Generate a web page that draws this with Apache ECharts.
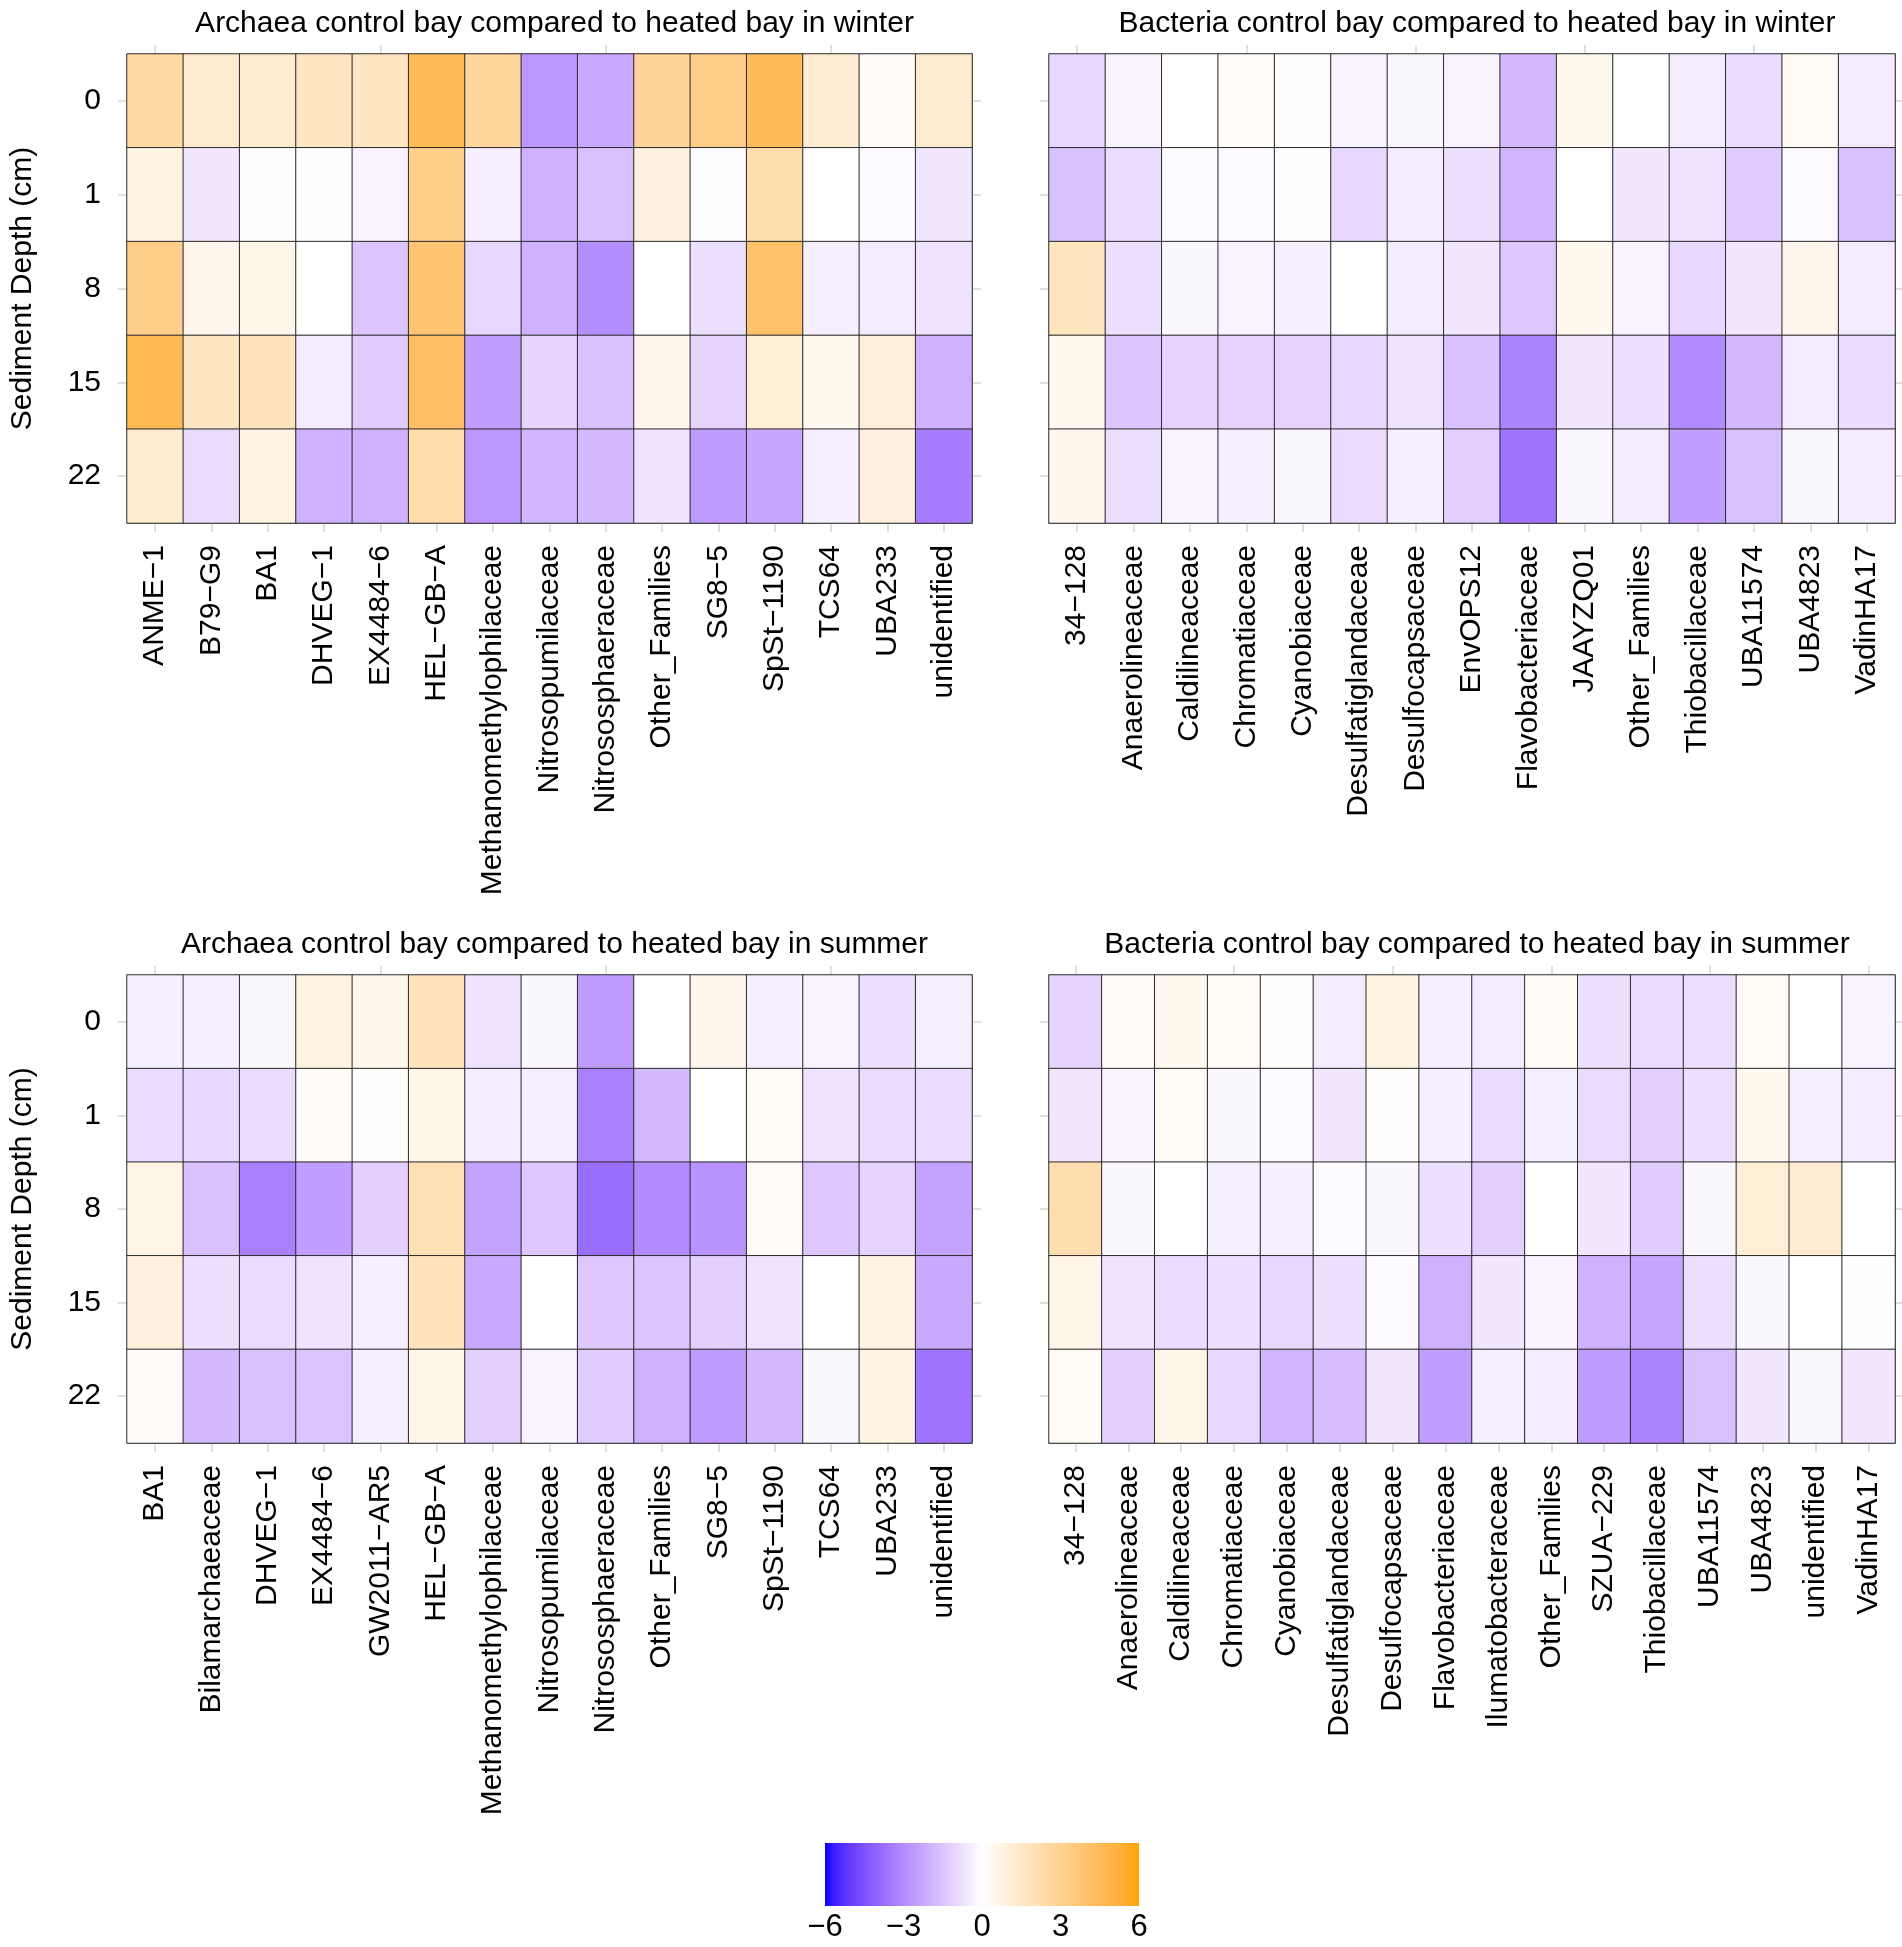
<!DOCTYPE html>
<html><head><meta charset="utf-8">
<script src="https://cdn.jsdelivr.net/npm/echarts@6/dist/echarts.min.js"></script>
<style>html,body{margin:0;padding:0;background:#fff}#c{width:1902px;height:1947px}</style>
</head><body><div id="c"></div>
<script>
const depths = ['0','1','8','15','22'];
const archaeaWinterFamilies = ['ANME−1','B79−G9','BA1','DHVEG−1','EX4484−6','HEL−GB−A','Methanomethylophilaceae','Nitrosopumilaceae','Nitrososphaeraceae','Other_Families','SG8−5','SpSt−1190','TCS64','UBA233','unidentified'];
const bacteriaWinterFamilies = ['34−128','Anaerolineaceae','Caldilineaceae','Chromatiaceae','Cyanobiaceae','Desulfatiglandaceae','Desulfocapsaceae','EnvOPS12','Flavobacteriaceae','JAAYZQ01','Other_Families','Thiobacillaceae','UBA11574','UBA4823','VadinHA17'];
const archaeaSummerFamilies = ['BA1','Bilamarchaeaceae','DHVEG−1','EX4484−6','GW2011−AR5','HEL−GB−A','Methanomethylophilaceae','Nitrosopumilaceae','Nitrososphaeraceae','Other_Families','SG8−5','SpSt−1190','TCS64','UBA233','unidentified'];
const bacteriaSummerFamilies = ['34−128','Anaerolineaceae','Caldilineaceae','Chromatiaceae','Cyanobiaceae','Desulfatiglandaceae','Desulfocapsaceae','Flavobacteriaceae','Ilumatobacteraceae','Other_Families','SZUA−229','Thiobacillaceae','UBA11574','UBA4823','unidentified','VadinHA17'];

// rows = depths 0,1,8,15,22 ; columns = families
const archaeaWinter = [
  [2.5, 1.3, 1.3, 1.6, 1.6, 4.5, 2.7, -2.7, -2.2, 2.8, 3.2, 4.5, 1.2, 0.2, 1.3],
  [0.8, -0.6, 0.1, 0.05, -0.3, 3.2, -0.4, -2.0, -1.6, 0.9, -0.05, 2.2, 0.0, -0.1, -0.6],
  [3.2, 0.5, 0.6, 0.0, -1.5, 3.8, -1.0, -2.0, -2.9, 0.0, -0.8, 4.0, -0.4, -0.5, -0.7],
  [4.6, 1.6, 1.8, -0.5, -1.3, 4.2, -2.5, -1.1, -1.6, 0.5, -1.1, 1.1, 0.4, 1.0, -2.0],
  [1.3, -0.9, 0.8, -2.0, -2.0, 2.3, -2.7, -1.9, -1.8, -0.7, -2.6, -2.3, -0.4, 0.9, -3.4]
];
const bacteriaWinter = [
  [-1.0, -0.3, 0.0, 0.15, 0.05, -0.3, -0.2, -0.3, -1.8, 0.4, 0.0, -0.5, -0.9, 0.3, -0.5],
  [-1.6, -0.9, -0.1, -0.15, -0.05, -1.0, -0.5, -0.8, -1.9, 0.0, -0.6, -0.7, -1.3, -0.15, -1.6],
  [1.7, -0.8, -0.2, -0.3, -0.4, 0.0, -0.5, -0.6, -1.4, 0.4, -0.3, -1.0, -0.6, 0.5, -0.5],
  [0.4, -1.5, -1.1, -1.1, -1.1, -1.0, -0.7, -1.6, -3.2, -0.6, -0.8, -3.0, -1.8, -0.5, -0.9],
  [0.5, -0.8, -0.3, -0.4, -0.2, -0.9, -0.4, -1.2, -3.6, -0.2, -0.5, -2.5, -1.6, -0.2, -0.5]
];
const archaeaSummer = [
  [-0.4, -0.4, -0.2, 0.8, 0.5, 1.8, -0.7, -0.2, -2.6, 0.0, 0.5, -0.4, -0.3, -0.8, -0.4],
  [-0.9, -1.0, -0.9, 0.2, 0.05, 0.6, -0.5, -0.4, -3.3, -1.8, 0.0, 0.3, -0.7, -0.9, -0.9],
  [0.7, -1.6, -3.3, -2.5, -1.2, 2.0, -2.4, -1.4, -3.8, -3.0, -2.8, 0.2, -1.4, -1.1, -2.4],
  [0.9, -0.8, -0.9, -0.7, -0.4, 1.8, -2.2, 0.0, -1.4, -1.5, -1.2, -0.7, 0.0, 0.8, -2.2],
  [0.2, -1.8, -1.6, -1.5, -0.4, 0.6, -1.2, -0.3, -1.3, -2.0, -2.6, -1.8, -0.2, 0.8, -3.6]
];
const bacteriaSummer = [
  [-1.1, 0.2, 0.4, 0.3, 0.05, -0.5, 0.8, -0.4, -0.5, 0.2, -0.8, -0.9, -0.8, 0.3, 0.0, -0.3],
  [-0.6, -0.3, 0.3, -0.2, -0.1, -0.6, 0.05, -0.4, -0.9, -0.4, -0.9, -1.2, -0.8, 0.4, -0.4, -0.5],
  [2.2, -0.2, 0.0, -0.4, -0.4, -0.1, -0.2, -0.8, -1.2, 0.0, -0.6, -1.3, -0.2, 1.1, 1.2, 0.0],
  [0.6, -0.7, -0.9, -0.8, -1.0, -0.8, -0.1, -2.0, -0.6, -0.3, -2.0, -2.3, -0.8, -0.2, 0.0, -0.05],
  [0.3, -1.2, 0.6, -1.0, -1.9, -1.7, -0.6, -2.5, -0.4, -0.5, -2.6, -3.2, -1.6, -0.6, -0.2, -0.6]
];
const panelTitles = [
  'Archaea control bay compared to heated bay in winter',
  'Bacteria control bay compared to heated bay in winter',
  'Archaea control bay compared to heated bay in summer',
  'Bacteria control bay compared to heated bay in summer'
];
const colorTicks = [-6, -3, 0, 3, 6];

// Lab-space colour ramp blue -> white -> orange
function srgbToLin(c){c/=255;return c<=0.04045?c/12.92:Math.pow((c+0.055)/1.055,2.4);}
function linToSrgb(c){c=Math.max(0,Math.min(1,c));return Math.round(255*(c<=0.0031308?12.92*c:1.055*Math.pow(c,1/2.4)-0.055));}
function toLab(hex){
  const r=srgbToLin(parseInt(hex.substr(1,2),16)),g=srgbToLin(parseInt(hex.substr(3,2),16)),b=srgbToLin(parseInt(hex.substr(5,2),16));
  let X=(0.4124*r+0.3576*g+0.1805*b)/0.95047,Y=(0.2126*r+0.7152*g+0.0722*b),Z=(0.0193*r+0.1192*g+0.9505*b)/1.08883;
  const f=t=>t>0.008856?Math.cbrt(t):7.787*t+16/116;
  const fx=f(X),fy=f(Y),fz=f(Z);
  return [116*fy-16,500*(fx-fy),200*(fy-fz)];
}
function fromLab(L,a,bb){
  const fy=(L+16)/116,fx=fy+a/500,fz=fy-bb/200;
  const fi=t=>t*t*t>0.008856?t*t*t:(t-16/116)/7.787;
  const X=fi(fx)*0.95047,Y=fi(fy),Z=fi(fz)*1.08883;
  const r=3.2406*X-1.5372*Y-0.4986*Z,g=-0.9689*X+1.8758*Y+0.0415*Z,b=0.0557*X-0.2040*Y+1.0570*Z;
  const h=v=>linToSrgb(v).toString(16).padStart(2,'0');
  return '#'+h(r)+h(g)+h(b);
}
function ramp(stops,n){
  const labs=stops.map(toLab),out=[];
  for(let i=0;i<n;i++){
    const t=i/(n-1)*(labs.length-1);const k=Math.min(Math.floor(t),labs.length-2);const u=t-k;
    const A=labs[k],B=labs[k+1];
    out.push(fromLab(A[0]+(B[0]-A[0])*u,A[1]+(B[1]-A[1])*u,A[2]+(B[2]-A[2])*u));
  }
  return out;
}
const rampColors = ramp(['#0000FF','#FFFFFF','#FFA500'], 41);

const FONT = 'Liberation Sans, Arial, sans-serif';
const FS = 30;
const panels = [
  {fam: archaeaWinterFamilies, vals: archaeaWinter, left:127, top:54, width:845, height:469, ylab:true},
  {fam: bacteriaWinterFamilies, vals: bacteriaWinter, left:1049, top:54, width:846, height:469, ylab:false},
  {fam: archaeaSummerFamilies, vals: archaeaSummer, left:127, top:975, width:845, height:468, ylab:true},
  {fam: bacteriaSummerFamilies, vals: bacteriaSummer, left:1049, top:975, width:846, height:468, ylab:false}
];

const grid=[], xAxis=[], yAxis=[], series=[], title=[];
const tickStyle = {show:true, alignWithLabel:true, length:9, lineStyle:{color:'#d6d6d6', width:1.5}};
const lineStyle = {show:true, lineStyle:{color:'#9a9a9a', width:1}};
panels.forEach((p,i)=>{
  grid.push({left:p.left, top:p.top, width:p.width, height:p.height});
  title.push({text: panelTitles[i], left: p.left + p.width/2, top: p.top - 50, textAlign:'center',
    textStyle:{fontFamily:FONT, fontSize:FS, fontWeight:'normal', color:'#000'}});
  xAxis.push({type:'category', gridIndex:i, data:p.fam, position:'bottom', axisLine:lineStyle, axisTick:tickStyle,
    axisLabel:{rotate:90, margin:22, fontFamily:FONT, fontSize:FS, color:'#000', interval:0}, splitLine:{show:false}});
  xAxis.push({type:'category', gridIndex:i, data:p.fam, position:'top', axisLine:lineStyle, axisTick:tickStyle,
    axisLabel:{show:false}, splitLine:{show:false}});
  yAxis.push({type:'category', gridIndex:i, data:depths, inverse:true, position:'left', axisLine:lineStyle, axisTick:tickStyle,
    axisLabel:{show:p.ylab, margin:26, fontFamily:FONT, fontSize:FS, color:'#000'},
    name: p.ylab ? 'Sediment Depth (cm)' : '', nameLocation:'middle', nameRotate:90, nameGap:89,
    nameTextStyle:{fontFamily:FONT, fontSize:FS, color:'#000'}});
  yAxis.push({type:'category', gridIndex:i, data:depths, inverse:true, position:'right', axisLine:lineStyle, axisTick:tickStyle,
    axisLabel:{show:false}});
  const data=[];
  p.vals.forEach((row,r)=>row.forEach((v,c)=>data.push([c,r,v])));
  series.push({type:'heatmap', xAxisIndex:2*i, yAxisIndex:2*i, data:data,
    itemStyle:{borderColor:'#2a2a2a', borderWidth:1}, emphasis:{disabled:true}});
});

// colour bar grid (axis labels)
const cb = {left:825, top:1843, width:314, height:63};
grid.push({left:cb.left, top:cb.top, width:cb.width, height:cb.height});
xAxis.push({type:'value', gridIndex:4, min:colorTicks[0], max:colorTicks[colorTicks.length-1], interval:3,
  axisLine:{show:false}, splitLine:{show:false},
  axisTick:{show:true, inside:true, length:7, lineStyle:{color:'#fff', width:1.5}},
  axisLabel:{margin:6, fontFamily:FONT, fontSize:31, color:'#000', formatter:v=>String(v).replace('-','−')}});
yAxis.push({type:'value', gridIndex:4, show:false});

const stops = rampColors.map((c,i)=>({offset:i/(rampColors.length-1), color:c}));

const chart = echarts.init(document.getElementById('c'));
chart.setOption({
  animation:false,
  backgroundColor:'#fff',
  title, grid, xAxis, yAxis, series,
  visualMap:{type:'continuous', min:-6, max:6, show:false, seriesIndex:[0,1,2,3], inRange:{color:rampColors}},
  graphic:[{type:'rect', z:1, shape:{x:cb.left, y:cb.top, width:cb.width, height:cb.height},
    style:{fill:new echarts.graphic.LinearGradient(0,0,1,0,stops)}}]
});
</script></body></html>
